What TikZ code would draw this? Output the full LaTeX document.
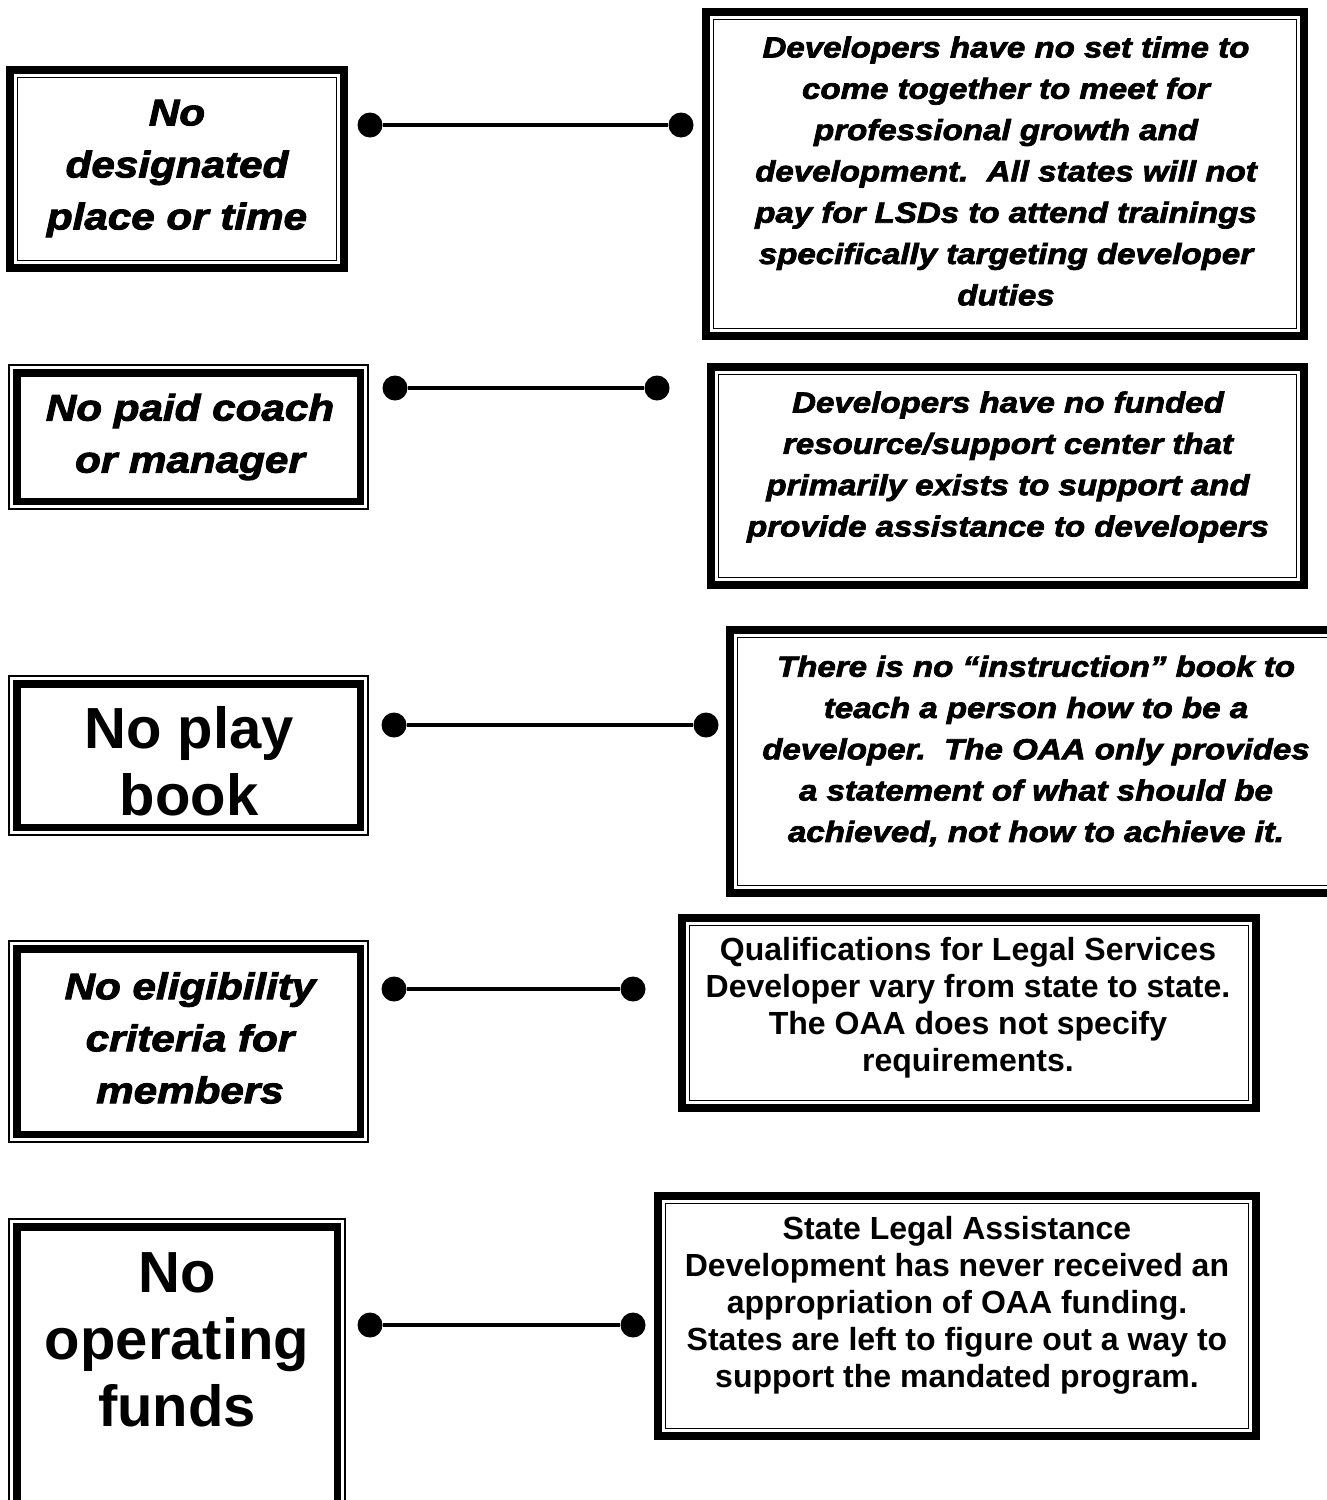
\documentclass[tikz,border=0pt]{standalone}
\usepackage{fontspec}
\newfontfamily\heavyfont[FakeBold=2.6,FakeStretch=1.14]{Liberation Sans}
\newfontfamily\arialfont{Liberation Sans}
\newcommand{\hvtext}{\heavyfont\bfseries\itshape}
\newcommand{\abtext}{\arialfont\bfseries}
\begin{document}
\begin{tikzpicture}[x=1pt,y=-1pt,
  area/.style={rectangle,draw=none,inner sep=0pt},
  thickthin/.style={area,path picture={
    \draw[line width=8pt] ([shift={(4pt,-4pt)}]path picture bounding box.north west) rectangle ([shift={(-4pt,4pt)}]path picture bounding box.south east);
    \draw[line width=1.8pt] ([shift={(11.5pt,-11.5pt)}]path picture bounding box.north west) rectangle ([shift={(-11.5pt,11.5pt)}]path picture bounding box.south east);}},
  thinthick/.style={area,path picture={
    \draw[line width=1.8pt] ([shift={(1pt,-1pt)}]path picture bounding box.north west) rectangle ([shift={(-1pt,1pt)}]path picture bounding box.south east);
    \draw[line width=7.5pt] ([shift={(8.75pt,-8.75pt)}]path picture bounding box.north west) rectangle ([shift={(-8.75pt,8.75pt)}]path picture bounding box.south east);}},
  lefttxt/.style={align=center,inner sep=0pt,font=\hvtext\fontsize{37}{52}\selectfont},
  righttxt/.style={align=center,inner sep=0pt,font=\hvtext\fontsize{29}{41.3}\selectfont},
  bigtxt/.style={align=center,inner sep=0pt,font=\abtext\fontsize{58}{67}\selectfont},
  plaintxt/.style={align=center,inner sep=0pt,font=\abtext\fontsize{32}{37}\selectfont},
  dot/.style={circle,fill=black,inner sep=0pt,minimum size=25pt},
  link/.style={line width=4pt}
]
\useasboundingbox (0,0) rectangle (1326,1500);
\fill[white] (0,0) rectangle (1326,1500);

% Row 1
\node[thickthin,minimum width=342pt,minimum height=206pt] (L1) at (177,169) {};
\node[lefttxt] (L1t) at (177,168.5) {No\\designated\\place or time};
\node[thickthin,minimum width=606pt,minimum height=332pt] (R1) at (1005,174) {};
\node[righttxt] (R1t) at (1006,171) {Developers have no set time to\\come together to meet for\\professional growth and\\development.\ \ All states will not\\pay for LSDs to attend trainings\\specifically targeting developer\\duties};
\node[dot] (d1a) at (370,125) {};
\node[dot] (d1b) at (681,125) {};
\draw[link] (d1a) -- (d1b);

% Row 2
\node[thinthick,minimum width=361pt,minimum height=146pt] (L2) at (188.5,437) {};
\node[lefttxt] (L2t) at (190,437) {No paid coach\\or manager};
\node[thickthin,minimum width=601pt,minimum height=226pt] (R2) at (1007.5,476) {};
\node[righttxt] (R2t) at (1008,467) {Developers have no funded\\resource/support center that\\primarily exists to support and\\provide assistance to developers};
\node[dot] (d2a) at (395,388) {};
\node[dot] (d2b) at (657,388) {};
\draw[link] (d2a) -- (d2b);

% Row 3
\node[thinthick,minimum width=361pt,minimum height=161pt] (L3) at (188.5,755.5) {};
\node[bigtxt] (L3t) at (189,761) {No play\\book};
\node[thickthin,minimum width=620pt,minimum height=271pt] (R3) at (1036,761.5) {};
\node[righttxt] (R3t) at (1036,751) {There is no “instruction” book to\\teach a person how to be a\\developer.\ \ The OAA only provides\\a statement of what should be\\achieved, not how to achieve it.};
\node[dot] (d3a) at (394,725) {};
\node[dot] (d3b) at (706,725) {};
\draw[link] (d3a) -- (d3b);

% Row 4
\node[thinthick,minimum width=361pt,minimum height=203pt] (L4) at (188.5,1041.5) {};
\node[lefttxt] (L4t) at (190,1038) {No eligibility\\criteria for\\members};
\node[thickthin,minimum width=582pt,minimum height=198pt] (R4) at (969,1013) {};
\node[plaintxt] (R4t) at (968,1008) {Qualifications for Legal Services\\Developer vary from state to state.\\The OAA does not specify\\requirements.};
\node[dot] (d4a) at (394,989) {};
\node[dot] (d4b) at (633,989) {};
\draw[link] (d4a) -- (d4b);

% Row 5
\node[thinthick,minimum width=338pt,minimum height=300pt] (L5) at (177,1368) {};
\node[bigtxt] (L5t) at (177,1340) {No\\operating\\funds};
\node[thickthin,minimum width=606pt,minimum height=248pt] (R5) at (957,1316) {};
\node[plaintxt] (R5t) at (957,1305) {State Legal Assistance\\Development has never received an\\appropriation of OAA funding.\\States are left to figure out a way to\\support the mandated program.};
\node[dot] (d5a) at (370,1325) {};
\node[dot] (d5b) at (633,1325) {};
\draw[link] (d5a) -- (d5b);
\end{tikzpicture}
\end{document}
